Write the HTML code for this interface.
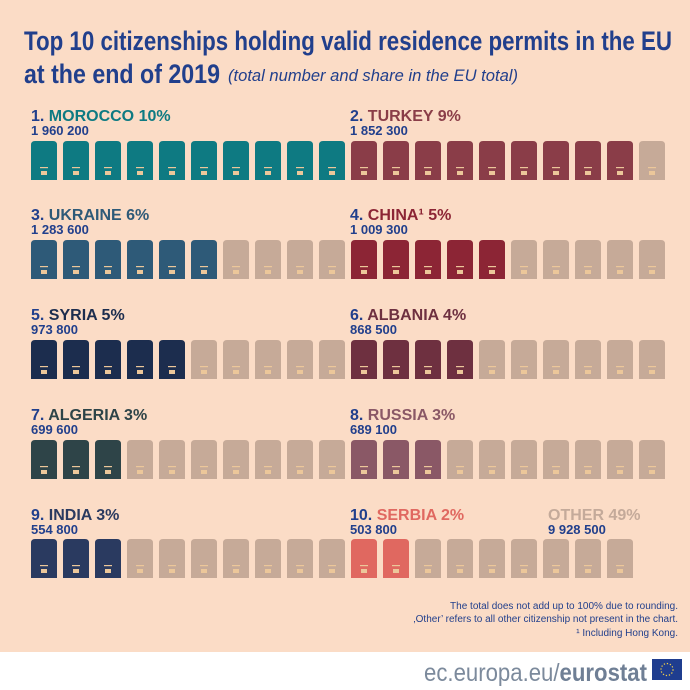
<!DOCTYPE html>
<html><head><meta charset="utf-8"><style>
html,body{margin:0;padding:0;background:#fbdcc6}
svg{display:block}
text{font-family:"Liberation Sans Narrow","Liberation Sans",sans-serif}
</style></head><body>
<svg id="s" width="690" height="690" viewBox="0 0 690 690" xmlns="http://www.w3.org/2000/svg">
<rect width="690" height="690" fill="#fbdcc6"/>
<rect y="652" width="690" height="38" fill="#ffffff"/>
<text x="24" y="50" font-size="27" font-weight="bold" fill="#213f8c" textLength="648" lengthAdjust="spacingAndGlyphs">Top 10 citizenships holding valid residence permits in the EU</text>
<text x="24" y="83" font-size="27" font-weight="bold" fill="#213f8c" textLength="196" lengthAdjust="spacingAndGlyphs">at the end of 2019</text>
<text x="228" y="81" font-size="17" font-style="italic" fill="#213f8c" textLength="290" lengthAdjust="spacingAndGlyphs">(total number and share in the EU total)</text>
<g font-weight="bold" font-size="16">
<text x="31" y="121"><tspan fill="#213f8c">1. </tspan><tspan fill="#0e7a82">MOROCCO  10%</tspan></text>
<text x="350" y="121"><tspan fill="#213f8c">2. </tspan><tspan fill="#8a3d48">TURKEY  9%</tspan></text>
<text x="31" y="220"><tspan fill="#213f8c">3. </tspan><tspan fill="#2e5a78">UKRAINE  6%</tspan></text>
<text x="350" y="220"><tspan fill="#213f8c">4. </tspan><tspan fill="#8c2535">CHINA¹  5%</tspan></text>
<text x="31" y="320"><tspan fill="#213f8c">5. </tspan><tspan fill="#1c2d4e">SYRIA  5%</tspan></text>
<text x="350" y="320"><tspan fill="#213f8c">6. </tspan><tspan fill="#6e3040">ALBANIA  4%</tspan></text>
<text x="31" y="420"><tspan fill="#213f8c">7. </tspan><tspan fill="#2e4448">ALGERIA  3%</tspan></text>
<text x="350" y="420"><tspan fill="#213f8c">8. </tspan><tspan fill="#8a5866">RUSSIA  3%</tspan></text>
<text x="31" y="520"><tspan fill="#213f8c">9. </tspan><tspan fill="#2a3a60">INDIA  3%</tspan></text>
<text x="350" y="520"><tspan fill="#213f8c">10. </tspan><tspan fill="#e06860">SERBIA  2%</tspan></text>
<text x="548" y="520" fill="#c4aa9a">OTHER 49%</text>
</g>
<g font-weight="bold" font-size="13" fill="#213f8c">
<text x="31" y="135">1 960 200</text><text x="350" y="135">1 852 300</text>
<text x="31" y="234">1 283 600</text><text x="350" y="234">1 009 300</text>
<text x="31" y="334">973 800</text><text x="350" y="334">868 500</text>
<text x="31" y="434">699 600</text><text x="350" y="434">689 100</text>
<text x="31" y="534">554 800</text><text x="350" y="534">503 800</text>
<text x="548" y="534">9 928 500</text>
</g>
<g font-size="10" fill="#213f8c" text-anchor="end">
<text x="678" y="609">The total does not add up to 100% due to rounding.</text>
<text x="678" y="622">‚Other’ refers to all other citizenship not present in the chart.</text>
<text x="678" y="636">¹ Including Hong Kong.</text>
</g>
<text x="424" y="681" font-size="25" fill="#7c8a9c" font-family="Liberation Sans,sans-serif" textLength="223" lengthAdjust="spacingAndGlyphs">ec.europa.eu/<tspan font-weight="bold" fill="#6f7f95">eurostat</tspan></text>
<rect x="652" y="659" width="30" height="21" fill="#1f3d8f"/>
<circle cx="667" cy="669.5" r="6" fill="none" stroke="#f2d04a" stroke-width="1.2" stroke-dasharray="1.3 1.8"/>
<g id="p"></g>
</svg>
<script>
var rows=[[141,['#0e7a82',10],['#8a3d48',9]],[240,['#2e5a78',6],['#8c2535',5]],[340,['#1c2d4e',5],['#6e3040',4]],[440,['#2e4448',3],['#8a5866',3]],[539,['#2a3a60',3],['#e06860',2]]];
var g=document.getElementById('p'),h='';
var gray='#c6aa98';
rows.forEach(function(r){
 var y=r[0];
 for(var i=0;i<20;i++){
  var x=31+i*32,c=gray;
  if(i<10){ if(i<r[1][1]) c=r[1][0]; } else { if(i-10<r[2][1]) c=r[2][0]; }
  if(y===539 && i>=19) continue;
  h+='<path d="M'+x+' '+(y+39)+'V'+(y+4)+'Q'+x+' '+y+' '+(x+4)+' '+y+'H'+(x+22)+'Q'+(x+26)+' '+y+' '+(x+26)+' '+(y+4)+'V'+(y+39)+'Z" fill="'+c+'"/>';
  h+='<rect x="'+(x+9)+'" y="'+(y+26)+'" width="8" height="1.2" fill="#ecc79a"/>';
  h+='<rect x="'+(x+10)+'" y="'+(y+30)+'" width="6" height="4" fill="#ecc79a"/>';
 }
});
g.innerHTML=h;
</script>
</body></html>
